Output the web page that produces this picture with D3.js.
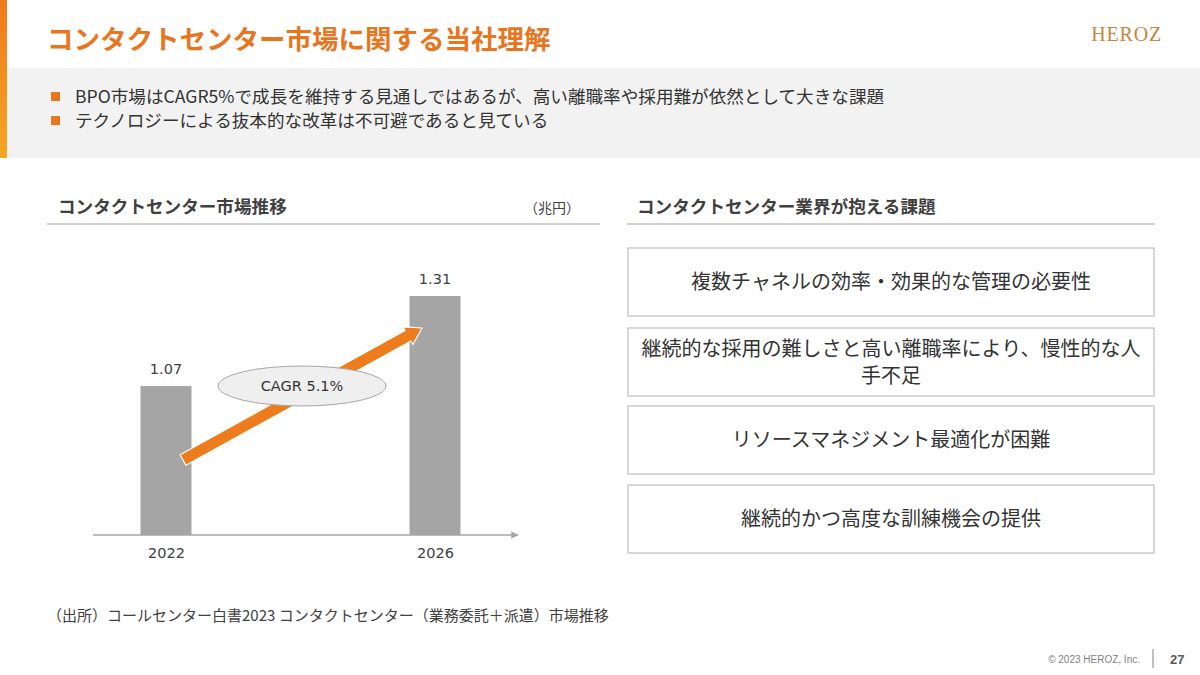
<!DOCTYPE html>
<html>
<head>
<meta charset="utf-8">
<script src="https://cdn.jsdelivr.net/npm/d3@7"></script>
<style>
  body { margin: 0; background: #fff; }
  svg { display: block; font-family: "Noto Sans CJK JP", "Noto Sans", sans-serif; }
</style>
</head>
<body>
<div id="wrapper"></div>
<script>
// chart data
const years = ["2022", "2026"]
const marketSize = [1.07, 1.31]
const valueLabels = ["1.07", "1.31"]
const cagrLabel = "CAGR 5.1%"

// slide text
const pageTitle = "コンタクトセンター市場に関する当社理解"
const bullets = [
    "BPO市場はCAGR5%で成長を維持する見通しではあるが、高い離職率や採用難が依然として大きな課題",
    "テクノロジーによる抜本的な改革は不可避であると見ている"
]
const chartTitle = "コンタクトセンター市場推移"
const unitLabel = "（兆円）"
const issuesTitle = "コンタクトセンター業界が抱える課題"
const issues = [
    ["複数チャネルの効率・効果的な管理の必要性"],
    ["継続的な採用の難しさと高い離職率により、慢性的な人", "手不足"],
    ["リソースマネジメント最適化が困難"],
    ["継続的かつ高度な訓練機会の提供"]
]
const sourceNote = "（出所）コールセンター白書2023 コンタクトセンター（業務委託＋派遣）市場推移"

const width = 1200
const height = 675
const orange = "#e8761e"
const numFont = "'DejaVu Sans', Verdana, sans-serif"

const svg = d3.select("#wrapper")
    .append("svg")
    .attr("width", width)
    .attr("height", height)

const defs = svg.append("defs")
const grad = defs.append("linearGradient")
    .attr("id", "sideGrad")
    .attr("x1", 0).attr("y1", 0).attr("x2", 0).attr("y2", 1)
grad.append("stop").attr("offset", "0%").attr("stop-color", "#ee7a1c")
grad.append("stop").attr("offset", "100%").attr("stop-color", "#f5a623")

// header
svg.append("rect").attr("x", 7).attr("y", 68).attr("width", width - 7).attr("height", 90).attr("fill", "#f2f2f2")
svg.append("rect").attr("x", 0).attr("y", 0).attr("width", 7).attr("height", 158).attr("fill", "url(#sideGrad)")

svg.append("text")
    .attr("x", 47).attr("y", 49)
    .attr("font-size", 26.5).attr("font-weight", 700)
    .attr("fill", orange)
    .text(pageTitle)

svg.append("text")
    .attr("x", 1162).attr("y", 41)
    .attr("text-anchor", "end")
    .attr("font-family", "'Liberation Serif', 'DejaVu Serif', serif")
    .attr("font-size", 20)
    .attr("fill", "#c9853d")
    .attr("letter-spacing", 0.8)
    .text("HEROZ")

const bulletRows = svg.append("g").selectAll("g")
    .data(bullets)
    .join("g")
    .attr("transform", (d, i) => `translate(0, ${103 + i * 24})`)
bulletRows.append("rect")
    .attr("x", 51).attr("y", -11).attr("width", 9).attr("height", 9)
    .attr("fill", orange)
bulletRows.append("text")
    .attr("x", 75).attr("y", 0)
    .attr("font-size", 17.6).attr("fill", "#333")
    .text(d => d)

// section headings
const headings = [
    { text: chartTitle, x: 58, x1: 47, x2: 600 },
    { text: issuesTitle, x: 637, x1: 627, x2: 1155 }
]
headings.forEach(h => {
    svg.append("text")
        .attr("x", h.x).attr("y", 213)
        .attr("font-size", 17.6).attr("font-weight", 700)
        .attr("fill", "#404040")
        .text(h.text)
    svg.append("line")
        .attr("x1", h.x1).attr("x2", h.x2)
        .attr("y1", 224).attr("y2", 224)
        .attr("stroke", "#bfbfbf").attr("stroke-width", 1.5)
})
svg.append("text")
    .attr("x", 580).attr("y", 213)
    .attr("text-anchor", "end")
    .attr("font-size", 14).attr("fill", "#404040")
    .text(unitLabel)

// bar chart
const xScale = d3.scalePoint()
    .domain(years)
    .range([166, 435])

const yScale = d3.scaleLinear()
    .domain([0.673, 1.31])
    .range([535, 296])

const barWidth = 51
const chart = svg.append("g")

chart.selectAll("rect.bar")
    .data(years)
    .join("rect")
    .attr("class", "bar")
    .attr("x", d => xScale(d) - barWidth / 2)
    .attr("y", (d, i) => yScale(marketSize[i]))
    .attr("width", barWidth)
    .attr("height", (d, i) => yScale(0.673) - yScale(marketSize[i]))
    .attr("fill", "#a5a5a5")

chart.selectAll("text.val")
    .data(years)
    .join("text")
    .attr("class", "val")
    .attr("x", d => xScale(d))
    .attr("y", (d, i) => yScale(marketSize[i]) - 12)
    .attr("text-anchor", "middle")
    .attr("font-family", numFont)
    .attr("font-size", 14.5).attr("fill", "#404040")
    .text((d, i) => valueLabels[i])

// x axis with arrow
defs.append("marker")
    .attr("id", "axisHead")
    .attr("viewBox", "0 0 10 10")
    .attr("refX", 9).attr("refY", 5)
    .attr("markerWidth", 5).attr("markerHeight", 5)
    .attr("orient", "auto")
    .append("path")
    .attr("d", "M0,0 L10,5 L0,10 z")
    .attr("fill", "#a6a6a6")

const xAxis = d3.axisBottom(xScale).tickSize(0).tickPadding(13)
const axisG = chart.append("g")
    .attr("transform", `translate(0, ${yScale(0.673)})`)
    .call(xAxis)
axisG.select(".domain").remove()
axisG.append("line")
    .attr("x1", 93).attr("x2", 518)
    .attr("y1", 0).attr("y2", 0)
    .attr("stroke", "#a6a6a6").attr("stroke-width", 1.5)
    .attr("marker-end", "url(#axisHead)")
axisG.selectAll(".tick text")
    .attr("font-family", numFont)
    .attr("font-size", 14.5).attr("fill", "#404040")

// CAGR arrow
const ax1 = xScale("2022") + 17, ay1 = 460
const ax2 = xScale("2026") - 13, ay2 = 328
const ang = Math.atan2(ay2 - ay1, ax2 - ax1)
const len = Math.hypot(ax2 - ax1, ay2 - ay1)
const sw = 6, hw = 10, hl = 16
const arrowPts = [
    [0, -sw], [len - hl, -sw], [len - hl, -hw], [len, 0],
    [len - hl, hw], [len - hl, sw], [0, sw]
]
chart.append("path")
    .attr("d", d3.line()(arrowPts) + "Z")
    .attr("transform", `translate(${ax1},${ay1}) rotate(${ang * 180 / Math.PI})`)
    .attr("fill", "#ed7d1c")
    .attr("stroke", "#fff").attr("stroke-width", 1.2)

chart.append("ellipse")
    .attr("cx", 302).attr("cy", 386)
    .attr("rx", 84).attr("ry", 20)
    .attr("fill", "#efefef")
    .attr("stroke", "#a6a6a6").attr("stroke-width", 1)
chart.append("text")
    .attr("x", 302).attr("y", 391)
    .attr("text-anchor", "middle")
    .attr("font-family", numFont)
    .attr("font-size", 14.5).attr("fill", "#333")
    .text(cagrLabel)

// issues boxes
const boxTops = [248, 328, 406, 485]
const boxes = svg.append("g").selectAll("g")
    .data(issues)
    .join("g")
    .attr("transform", (d, i) => `translate(628, ${boxTops[i]})`)
boxes.append("rect")
    .attr("width", 526).attr("height", 68)
    .attr("fill", "#fff")
    .attr("stroke", "#bfbfbf").attr("stroke-width", 1.2)
boxes.each(function(lines) {
    const g = d3.select(this)
    const lh = 27
    const y0 = 34 - (lines.length - 1) * lh / 2 + 7
    lines.forEach((t, j) => {
        g.append("text")
            .attr("x", 263).attr("y", y0 + j * lh)
            .attr("text-anchor", "middle")
            .attr("font-size", 20).attr("fill", "#333")
            .text(t)
    })
})

// source + footer
svg.append("text")
    .attr("x", 47).attr("y", 621)
    .attr("font-size", 15).attr("fill", "#404040")
    .text(sourceNote)

svg.append("text")
    .attr("x", 1140).attr("y", 663)
    .attr("text-anchor", "end")
    .attr("font-family", "'Liberation Sans', Arial, sans-serif")
    .attr("font-size", 10).attr("fill", "#7f7f7f")
    .text("© 2023 HEROZ, Inc.")
svg.append("line")
    .attr("x1", 1153).attr("x2", 1153).attr("y1", 649).attr("y2", 668)
    .attr("stroke", "#7f7f7f").attr("stroke-width", 1)
svg.append("text")
    .attr("x", 1170).attr("y", 664)
    .attr("font-family", "'Liberation Sans', Arial, sans-serif")
    .attr("font-size", 13).attr("font-weight", 700).attr("fill", "#595959")
    .text("27")
</script>
</body>
</html>
